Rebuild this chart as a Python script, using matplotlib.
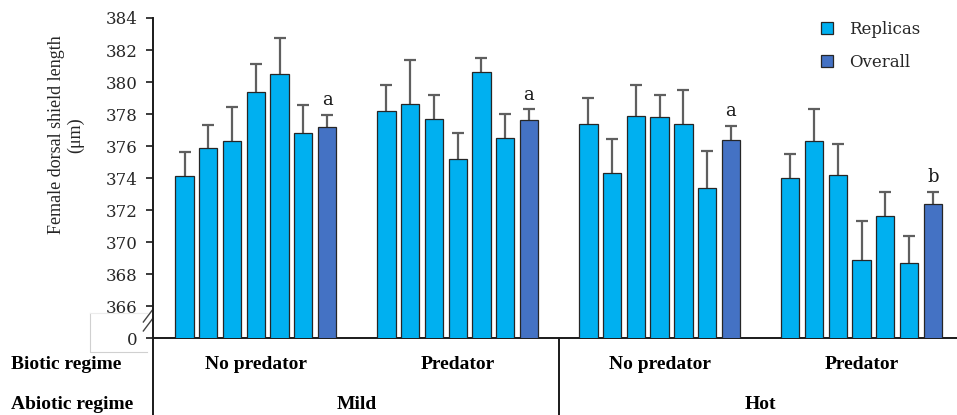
import matplotlib
matplotlib.use("Agg")
import matplotlib.pyplot as plt
import numpy as np
from matplotlib.patches import Patch
from matplotlib.lines import Line2D
import matplotlib.transforms as mtransforms

# ---- data -------------------------------------------------------------
abiotic = ["Mild", "Hot"]
biotic = ["No predator", "Predator", "No predator", "Predator"]
letters = ["a", "a", "a", "b"]

# six replicas + overall mean per treatment
means_mild_nopred = [374.1, 375.9, 376.3, 379.4, 380.5, 376.8, 377.2]
means_mild_pred = [378.2, 378.6, 377.7, 375.2, 380.6, 376.5, 377.6]
means_hot_nopred = [377.4, 374.3, 377.9, 377.8, 377.4, 373.4, 376.4]
means_hot_pred = [374.0, 376.3, 374.2, 368.9, 371.6, 368.7, 372.4]

se_mild_nopred = [1.5, 1.4, 2.15, 1.7, 2.25, 1.75, 0.75]
se_mild_pred = [1.6, 2.75, 1.5, 1.6, 0.9, 1.5, 0.7]
se_hot_nopred = [1.6, 2.15, 1.9, 1.4, 2.1, 2.3, 0.85]
se_hot_pred = [1.5, 2.0, 1.9, 2.4, 1.5, 1.65, 0.75]

yticks = [364, 366, 368, 370, 372, 374, 376, 378, 380, 382, 384]
yticklabels = ["0", "366", "368", "370", "372", "374", "376", "378", "380", "382", "384"]

means = [means_mild_nopred, means_mild_pred, means_hot_nopred, means_hot_pred]
ses = [se_mild_nopred, se_mild_pred, se_hot_nopred, se_hot_pred]

# ---- style ------------------------------------------------------------
c_rep = "#00B0F0"
c_all = "#4472C4"
serif = "DejaVu Serif"
serif2 = "Liberation Serif"

W, H = 957, 415
fig = plt.figure(figsize=(W / 100, H / 100), dpi=100)
ax = fig.add_axes([153 / W, 1 - 338 / H, 1 - 153 / W, (338 - 18) / H])

group_step = 8.5
for g, (m, s) in enumerate(zip(means, ses)):
    x = g * group_step + np.arange(7)
    cols = [c_rep] * 6 + [c_all]
    eb = ax.errorbar(x, m, yerr=[np.zeros(7), s], fmt="none", ecolor="#5f5f5f",
                     elinewidth=1.6, capsize=4, capthick=1.6, zorder=2)
    eb[1][0].set_visible(False)  # no cap at the bar top
    ax.bar(x, m, width=0.77, color=cols, edgecolor="#262626", linewidth=0.9, zorder=3)
    ax.text(x[-1], m[-1] + s[-1] + 0.35, letters[g], ha="center", va="bottom",
            fontsize=13, family=serif, color="#1a1a1a")

ax.set_ylim(364, 384)
ax.set_xlim(-1.33, 32.52)
ax.set_yticks(yticks)
ax.set_yticklabels(yticklabels, family=serif, fontsize=12, color="#262626")
ax.tick_params(axis="y", direction="out", length=5, width=1.2, pad=6, color="#1a1a1a")
ax.set_xticks([])
for sp in ["top", "right"]:
    ax.spines[sp].set_visible(False)
ax.spines["left"].set_linewidth(1.4)
ax.spines["bottom"].set_linewidth(1.4)
ax.spines["left"].set_color("#1a1a1a")
ax.spines["bottom"].set_color("#1a1a1a")

# axis break marks
tr = ax.transAxes
for dy in (0.0, 0.028):
    ax.add_line(Line2D([-0.012, 0.0], [0.022 + dy, 0.062 + dy], transform=tr,
                       color="#444444", lw=1.0, clip_on=False))
# faint frame left around the "0" label
fig.add_artist(Line2D([90 / W, 90 / W, 147 / W], [1 - 313 / H, 1 - 352 / H, 1 - 352 / H],
                      transform=fig.transFigure, color="#d0d0d0", lw=0.8))
fig.add_artist(Line2D([90 / W, 147 / W], [1 - 313 / H, 1 - 313 / H],
                      transform=fig.transFigure, color="#ececec", lw=0.8))

# y label
fig.text(66 / W, 1 - 135 / H, "Female dorsal shield length\n(\u03bcm)", rotation=90,
         ha="center", va="center", family=serif2, fontsize=13, linespacing=1.1,
         color="#262626")

# category table below the axis
fig.add_artist(Line2D([153 / W, 153 / W], [0, 1 - 338 / H], transform=fig.transFigure,
                      color="#1a1a1a", lw=1.4))
blend = mtransforms.blended_transform_factory(ax.transData, fig.transFigure)
sep = group_step + 6 + (group_step * 2 - (group_step + 6)) / 2
ax.add_line(Line2D([sep, sep], [0, 1 - 338 / H], transform=blend, color="#1a1a1a",
                   lw=1.4, clip_on=False))

for g, lab in enumerate(biotic):
    ax.text(g * group_step + 3, 1 - 364 / H, lab, transform=blend, ha="center",
            va="center", family=serif2, fontweight="bold", fontsize=14)
for a, lab in enumerate(abiotic):
    ax.text(a * 2 * group_step + 3 + group_step / 2, 1 - 404 / H, lab, transform=blend,
            ha="center", va="center", family=serif2, fontweight="bold", fontsize=14)
fig.text(11 / W, 1 - 364 / H, "Biotic regime", ha="left", va="center", family=serif2,
         fontweight="bold", fontsize=14)
fig.text(11 / W, 1 - 404 / H, "Abiotic regime", ha="left", va="center", family=serif2,
         fontweight="bold", fontsize=14)

# legend
handles = [Patch(facecolor=c_rep, edgecolor="#262626", lw=0.9, label="Replicas"),
           Patch(facecolor=c_all, edgecolor="#262626", lw=0.9, label="Overall")]
leg = fig.legend(handles=handles, loc="upper left", bbox_to_anchor=(806 / W, 1 - 6 / H),
                 frameon=False, prop={"family": serif, "size": 12}, handlelength=0.7,
                 handleheight=0.7, handletextpad=1.0, labelspacing=0.95)
for t in leg.get_texts():
    t.set_color("#262626")

fig.savefig("out.png", dpi=100)
